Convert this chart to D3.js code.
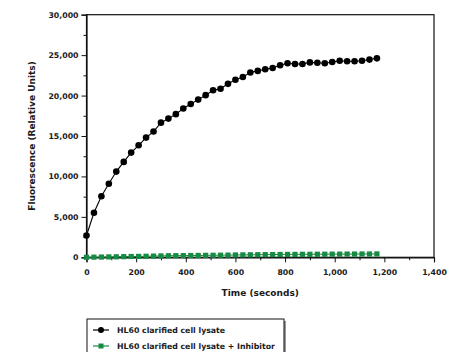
<!DOCTYPE html>
<html>
<head>
<meta charset="utf-8">
<script src="https://cdn.jsdelivr.net/npm/d3@7"></script>
<style>
  html, body { margin: 0; padding: 0; background: #fff; }
  svg { display: block; }
  text { font-family: "DejaVu Sans", sans-serif; font-weight: bold; fill: #1a1a1a; }
</style>
</head>
<body>
<svg id="chart" width="454" height="352"></svg>
<script>
// Sampling times (seconds)
const times = [0, 30, 60, 90, 120, 150, 180, 210, 240, 270, 300, 330, 360, 390, 420, 450, 480, 510, 540, 570,
               600, 630, 660, 690, 720, 750, 780, 810, 840, 870, 900, 930, 960, 990, 1020, 1050, 1080, 1110, 1140, 1170];

// Fluorescence, HL60 clarified cell lysate
const lysate = [2700, 5500, 7550, 9100, 10600, 11800, 12950, 13850, 14800, 15550,
                16650, 17150, 17700, 18400, 18950, 19500, 20050, 20650, 20850, 21450,
                21950, 22300, 22850, 23050, 23250, 23400, 23750, 24000, 23900, 23900,
                24100, 24050, 24000, 24150, 24300, 24250, 24250, 24300, 24450, 24600];

// Fluorescence, HL60 clarified cell lysate + Inhibitor
const lysateInhibitor = [0, 20, 30, 50, 60, 80, 100, 110, 130, 150,
                         170, 190, 200, 210, 220, 230, 240, 250, 260, 270,
                         290, 300, 310, 320, 330, 340, 350, 360, 360, 370,
                         370, 380, 380, 390, 390, 400, 400, 410, 410, 420];

const seriesNames = ["HL60 clarified cell lysate", "HL60 clarified cell lysate + Inhibitor"];
const xTicks = [0, 200, 400, 600, 800, 1000, 1200, 1400];
const xMinorTicks = [100, 300, 500, 700, 900, 1100, 1300];
const yTicks = [0, 5000, 10000, 15000, 20000, 25000, 30000];
const yMinorTicks = [2500, 7500, 12500, 17500, 22500, 27500];

const black = "#000";
const green = "#178a43";

const svg = d3.select("#chart");

const x = d3.scaleLinear().domain([0, 1400]).range([86.5, 434]);
const y = d3.scaleLinear().domain([0, 30000]).range([257.3, 14.7]);

const fmt = d3.format(",");

// Frame around the plotting area
svg.append("rect")
  .attr("x", x(0)).attr("y", y(30000))
  .attr("width", x(1400) - x(0)).attr("height", y(0) - y(30000))
  .attr("fill", "none").attr("stroke", "#111").attr("stroke-width", 1.2);

// Y axis
svg.append("g").attr("transform", `translate(${x(0)},0)`)
  .call(d3.axisLeft(y).tickValues(yTicks).tickFormat(fmt).tickSize(5).tickPadding(3));
svg.append("g").attr("transform", `translate(${x(0)},0)`)
  .call(d3.axisLeft(y).tickValues(yMinorTicks).tickFormat("").tickSize(3))
  .select(".domain").remove();

// X axis
svg.append("g").attr("transform", `translate(0,${y(0)})`)
  .call(d3.axisBottom(x).tickValues(xTicks).tickFormat(fmt).tickSize(5).tickPadding(7));
svg.append("g").attr("transform", `translate(0,${y(0)})`)
  .call(d3.axisBottom(x).tickValues(xMinorTicks).tickFormat("").tickSize(3))
  .select(".domain").remove();

svg.selectAll(".tick line").attr("stroke", "#111").attr("stroke-width", 1);
svg.selectAll(".domain").attr("stroke", "#111").attr("stroke-width", 1.2);
svg.selectAll(".tick text")
  .style("font-family", "'DejaVu Sans', sans-serif")
  .style("font-weight", "bold")
  .style("font-size", "7.8px")
  .attr("fill", "#1a1a1a");

// Axis titles
svg.append("text")
  .attr("x", (x(0) + x(1400)) / 2).attr("y", 296)
  .attr("text-anchor", "middle").style("font-size", "9px")
  .text("Time (seconds)");

svg.append("text")
  .attr("transform", `translate(35,${(y(0) + y(30000)) / 2}) rotate(-90)`)
  .attr("text-anchor", "middle").style("font-size", "9px")
  .text("Fluorescence (Relative Units)");

// Series
const pts = (vals) => times.map((t, i) => [t, vals[i]]);
const line = d3.line().x(d => x(d[0])).y(d => y(d[1]));

svg.append("path").datum(pts(lysateInhibitor))
  .attr("d", line).attr("fill", "none").attr("stroke", green).attr("stroke-width", 1);
svg.append("g").selectAll("rect").data(pts(lysateInhibitor)).join("rect")
  .attr("x", d => x(d[0]) - 2.6).attr("y", d => y(d[1]) - 2.6)
  .attr("width", 5.2).attr("height", 5.2).attr("fill", green);

svg.append("path").datum(pts(lysate))
  .attr("d", line).attr("fill", "none").attr("stroke", black).attr("stroke-width", 1.1);
svg.append("g").selectAll("circle").data(pts(lysate)).join("circle")
  .attr("cx", d => x(d[0])).attr("cy", d => y(d[1])).attr("r", 3.3).attr("fill", black);

// Legend with drop shadow
const lg = svg.append("g");
lg.append("rect").attr("x", 89).attr("y", 321).attr("width", 197).attr("height", 40)
  .attr("fill", "#999");
lg.append("rect").attr("x", 87).attr("y", 319).attr("width", 197).attr("height", 40)
  .attr("fill", "#fff").attr("stroke", "#111").attr("stroke-width", 1);

const rows = [
  { name: seriesNames[0], color: black, shape: "circle", cy: 330 },
  { name: seriesNames[1], color: green, shape: "square", cy: 346 }
];
rows.forEach(r => {
  lg.append("line").attr("x1", 93).attr("x2", 109).attr("y1", r.cy).attr("y2", r.cy)
    .attr("stroke", r.color).attr("stroke-width", 1.2);
  if (r.shape === "circle") {
    lg.append("circle").attr("cx", 101).attr("cy", r.cy).attr("r", 3).attr("fill", r.color);
  } else {
    lg.append("rect").attr("x", 98.5).attr("y", r.cy - 2.5).attr("width", 5).attr("height", 5).attr("fill", r.color);
  }
  lg.append("text").attr("x", 117).attr("y", r.cy + 2.9)
    .style("font-size", "7.8px").text(r.name);
});
</script>
</body>
</html>
